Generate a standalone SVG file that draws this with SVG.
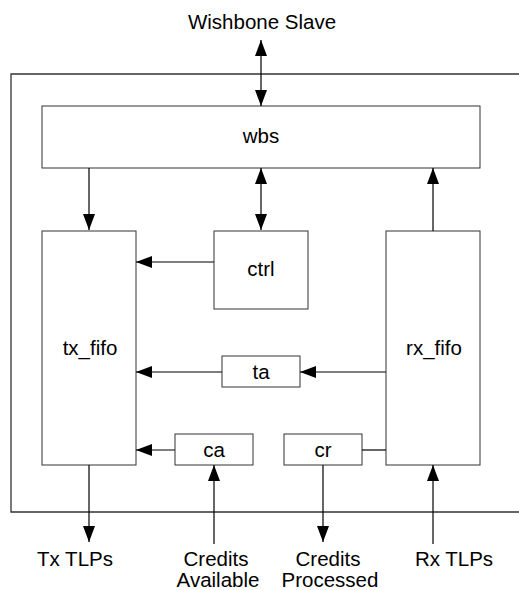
<svg xmlns="http://www.w3.org/2000/svg" width="519" height="590" viewBox="0 0 519 590">
<defs>
<marker id="ah" markerUnits="userSpaceOnUse" markerWidth="16" markerHeight="12" viewBox="0 0 16 12" refX="16" refY="6" orient="auto-start-reverse">
<path d="M0,0 L16,6 L0,12 z" fill="#000"/>
</marker>
</defs>
<style>
.box{fill:#fff;stroke:#333;stroke-width:1}
.ln{fill:none;stroke:#000;stroke-width:1.2}
.a{marker-end:url(#ah)}
.d{marker-start:url(#ah);marker-end:url(#ah)}
text{font-family:"Liberation Sans",Arial,sans-serif;font-size:20.5px;fill:#000;text-anchor:middle}
</style>
<rect width="519" height="590" fill="#fff"/>
<g id="outer">
<path d="M519,74 H11 V512 H519" fill="none" stroke="#333" stroke-width="1.3"/>
</g>
<g id="wbs"><rect class="box" x="42" y="106" width="438" height="62"/><text x="261" y="143">wbs</text></g>
<g id="tx_fifo"><rect class="box" x="42" y="231" width="94" height="234"/><text x="90" y="355">tx_fifo</text></g>
<g id="ctrl"><rect class="box" x="214" y="231" width="94" height="78"/><text x="261" y="276">ctrl</text></g>
<g id="rx_fifo"><rect class="box" x="386" y="231" width="94" height="234"/><text x="434" y="355">rx_fifo</text></g>
<g id="ta"><rect class="box" x="222" y="356" width="78" height="31"/><text x="261" y="379">ta</text></g>
<g id="ca"><rect class="box" x="175" y="434" width="78" height="31"/><text x="214" y="457">ca</text></g>
<g id="cr"><rect class="box" x="284" y="434" width="78" height="31"/><text x="323" y="457">cr</text></g>
<g id="labels">
<text x="262" y="29">Wishbone Slave</text>
<text x="75" y="566">Tx TLPs</text>
<text x="216" y="566">Credits</text>
<text x="218" y="587">Available</text>
<text x="328" y="566">Credits</text>
<text x="330" y="587">Processed</text>
<text x="454" y="566">Rx TLPs</text>
</g>
<g id="connectors">
<line class="ln d" x1="261" y1="40" x2="261" y2="106"/>
<line class="ln a" x1="89" y1="168" x2="89" y2="230"/>
<line class="ln d" x1="261" y1="168" x2="261" y2="230"/>
<line class="ln a" x1="433" y1="231" x2="433" y2="168"/>
<line class="ln a" x1="214" y1="262" x2="136" y2="262"/>
<line class="ln a" x1="386" y1="372" x2="300" y2="372"/>
<line class="ln a" x1="222" y1="372" x2="136" y2="372"/>
<line class="ln a" x1="175" y1="450" x2="136" y2="450"/>
<line class="ln" x1="362" y1="450" x2="386" y2="450"/>
<line class="ln a" x1="89" y1="465" x2="89" y2="542"/>
<line class="ln a" x1="214" y1="544" x2="214" y2="465"/>
<line class="ln a" x1="323" y1="465" x2="323" y2="542"/>
<line class="ln a" x1="433" y1="544" x2="433" y2="465"/>
</g>
</svg>
